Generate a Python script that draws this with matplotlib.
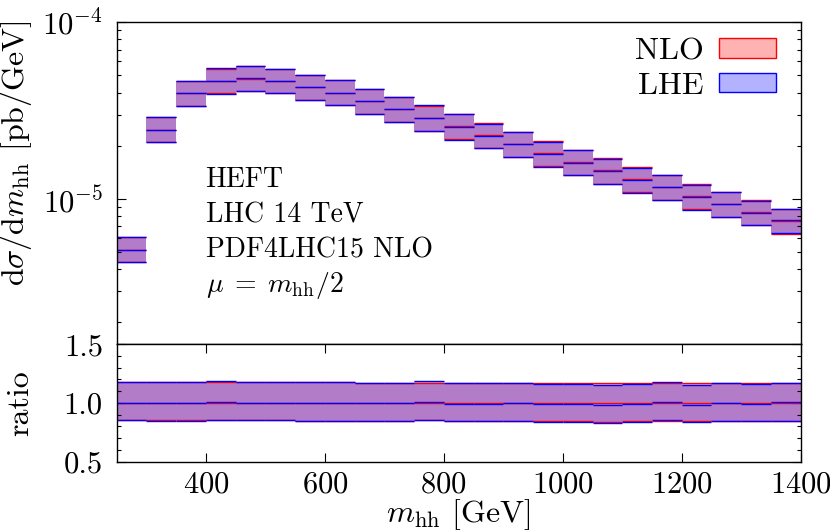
import numpy as np
import matplotlib
matplotlib.use("Agg")
import matplotlib.pyplot as plt
from matplotlib.patches import Patch
from matplotlib.ticker import LogLocator, NullFormatter, MultipleLocator, FormatStrFormatter

plt.rcParams["font.family"] = "serif"
plt.rcParams["font.serif"] = ["cmr10"]
plt.rcParams["mathtext.fontset"] = "cm"
plt.rcParams["axes.formatter.use_mathtext"] = True
plt.rcParams["axes.unicode_minus"] = False

# lower bin edges [GeV], bin width 50 GeV
bins = [250, 300, 350, 400, 450, 500, 550, 600, 650, 700, 750, 800,
        850, 900, 950, 1000, 1050, 1100, 1150, 1200, 1250, 1300, 1350]
width = 50

# NLO central values [pb/GeV]
nlo = [5.14e-6, 2.46e-5, 3.96e-5, 4.62e-5, 4.80e-5, 4.64e-5, 4.30e-5, 3.98e-5,
       3.57e-5, 3.22e-5, 2.86e-5, 2.57e-5, 2.29e-5, 2.04e-5, 1.81e-5, 1.62e-5,
       1.45e-5, 1.29e-5, 1.16e-5, 1.04e-5, 9.33e-6, 8.37e-6, 7.50e-6]

# scale bands and LHE, as ratio to NLO central
nlo_up = [1.179, 1.179, 1.179, 1.182, 1.179, 1.179, 1.176, 1.182, 1.174, 1.174, 1.174, 1.174,
          1.174, 1.171, 1.171, 1.171, 1.168, 1.171, 1.171, 1.168, 1.168, 1.171, 1.168]
nlo_dn = [0.852, 0.850, 0.850, 0.856, 0.852, 0.852, 0.849, 0.849, 0.849, 0.849, 0.851, 0.846,
          0.846, 0.849, 0.843, 0.843, 0.840, 0.843, 0.846, 0.846, 0.843, 0.846, 0.846]
lhe_c = [1.000, 1.000, 1.000, 1.006, 1.003, 1.000, 1.000, 1.000, 1.000, 1.000, 1.006, 0.994,
         0.994, 1.000, 0.989, 0.989, 0.986, 0.989, 1.006, 0.986, 1.000, 0.989, 1.006]
lhe_up = [1.179, 1.182, 1.179, 1.190, 1.176, 1.179, 1.176, 1.182, 1.174, 1.174, 1.183, 1.169,
          1.166, 1.171, 1.160, 1.160, 1.157, 1.160, 1.177, 1.157, 1.168, 1.160, 1.174]
lhe_dn = [0.852, 0.848, 0.846, 0.852, 0.852, 0.852, 0.846, 0.849, 0.849, 0.849, 0.852, 0.843,
          0.843, 0.849, 0.837, 0.837, 0.832, 0.837, 0.852, 0.834, 0.843, 0.846, 0.849]

x = np.array(bins)
nlo = np.array(nlo)
ones = np.ones_like(nlo)
series = [
    ("NLO", "red", ones, np.array(nlo_dn), np.array(nlo_up)),
    ("LHE", "blue", np.array(lhe_c), np.array(lhe_dn), np.array(lhe_up)),
]


def draw(ax, c, lo, hi, color):
    ax.bar(x, hi - lo, width=width, bottom=lo, align="edge", color=color,
           alpha=0.3, linewidth=0)
    for y in (lo, c, hi):
        ax.hlines(y, x, x + width, colors=color, lw=1.0)


fig = plt.figure(figsize=(8.3, 5.32), dpi=100)
ax = fig.add_axes([0.1406, 0.3528, 0.8241, 0.6053])
ax2 = fig.add_axes([0.1406, 0.1325, 0.8241, 0.2203])

for name, color, c, lo, hi in series:
    draw(ax, nlo * c, nlo * lo, nlo * hi, color)
    draw(ax2, c, lo, hi, color)

# main panel
ax.set_yscale("log")
ax.set_xlim(250, 1400)
ax.set_ylim(1.5e-6, 1e-4)
ax.yaxis.set_major_locator(LogLocator(base=10))
ax.yaxis.set_minor_locator(LogLocator(base=10, subs=np.arange(2, 10)))
ax.yaxis.set_minor_formatter(NullFormatter())
ax.tick_params(axis="x", which="both", bottom=False, top=False, labelbottom=False)
ax.tick_params(axis="y", which="both", direction="in", left=True, right=True,
               labelsize=22, pad=10)
ax.tick_params(axis="y", which="major", length=6.5, width=0.8)
ax.tick_params(axis="y", which="minor", length=3.2, width=0.8)
ax.set_ylabel(r"$\mathrm{d}\sigma/\mathrm{d}m_{\mathrm{hh}}$ [pb/GeV]", fontsize=23)
ax.yaxis.set_label_coords(-0.121, 0.594)

text = ["HEFT", "LHC 14 TeV", "PDF4LHC15 NLO", r"$\mu\;=\;m_{\mathrm{hh}}/2$"]
ypos = [0.4876, 0.3776, 0.2702, 0.162]
for t, yy in zip(text, ypos):
    ax.text(0.130, yy, t, transform=ax.transAxes, fontsize=20, va="baseline")

handles = [Patch(facecolor=(1, 0, 0, 0.3), edgecolor="red", lw=1),
           Patch(facecolor=(0, 0, 1, 0.3), edgecolor="blue", lw=1)]
ax.legend(handles, ["NLO", "LHE"], loc="upper right", bbox_to_anchor=(0.964, 0.952),
          frameon=False, markerfirst=False, fontsize=23, borderpad=0,
          borderaxespad=0, handlelength=1.8, handleheight=0.55,
          handletextpad=0.47, labelspacing=0.23)

# ratio panel
ax2.set_xlim(250, 1400)
ax2.set_ylim(0.5, 1.5)
ax2.set_yticks([0.5, 1.0, 1.5])
ax2.yaxis.set_major_formatter(FormatStrFormatter("%.1f"))
ax2.yaxis.set_minor_locator(MultipleLocator(0.1))
ax2.set_xticks([400, 600, 800, 1000, 1200, 1400])
ax2.tick_params(which="both", direction="in", top=True, right=True,
                labelsize=22)
ax2.tick_params(axis="y", pad=10)
ax2.tick_params(axis="x", pad=7)
ax2.tick_params(which="major", length=6.5, width=0.8)
ax2.tick_params(which="minor", length=3.2, width=0.8)
ax2.set_ylabel("ratio", fontsize=23)
ax2.yaxis.set_label_coords(-0.121, 0.5)
ax2.set_xlabel(r"$m_{\mathrm{hh}}$ [GeV]", fontsize=23)
ax2.xaxis.set_label_coords(0.5, -0.30)

for a in (ax, ax2):
    for s in a.spines.values():
        s.set_linewidth(1.0)

fig.savefig("out.png", dpi=100)
